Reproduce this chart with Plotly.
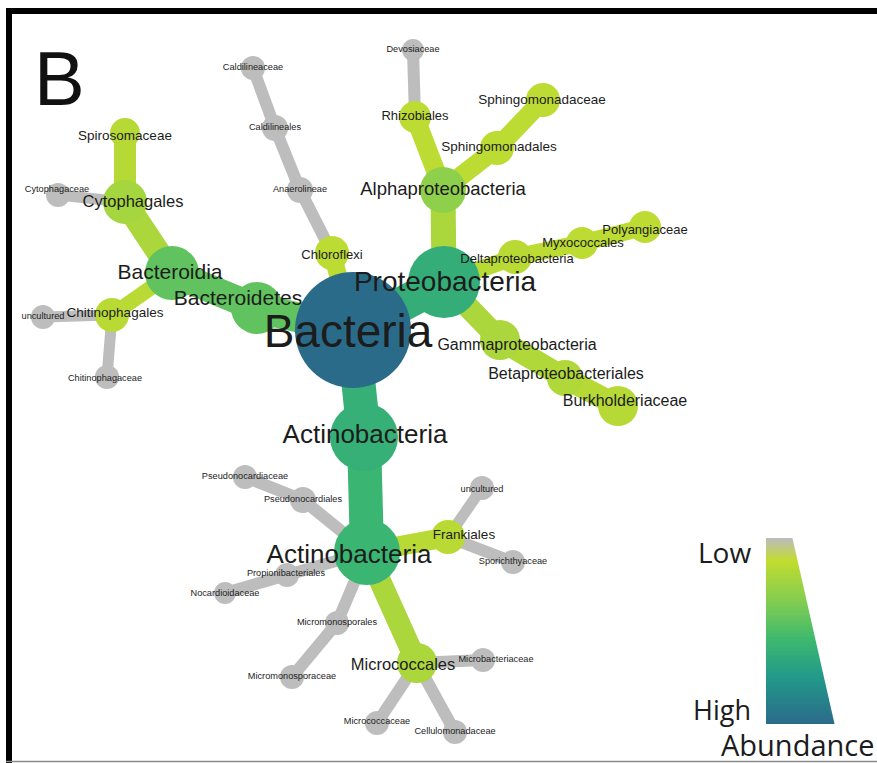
import plotly.graph_objects as go
from plotly.colors import sample_colorscale

# ---- taxonomy (parent is the index of the parent taxon, -1 for the root) ----
taxa = [
    "Bacteria", "Proteobacteria", "Actinobacteria", "Bacteroidetes", "Chloroflexi",
    "Actinobacteria", "Bacteroidia", "Anaerolineae", "Caldilineales", "Caldilineaceae",
    "Alphaproteobacteria", "Deltaproteobacteria", "Gammaproteobacteria", "Rhizobiales", "Devosiaceae",
    "Sphingomonadales", "Sphingomonadaceae", "Myxococcales", "Polyangiaceae", "Betaproteobacteriales",
    "Burkholderiaceae", "Cytophagales", "Spirosomaceae", "Cytophagaceae", "Chitinophagales",
    "uncultured", "Chitinophagaceae", "Pseudonocardiales", "Pseudonocardiaceae", "Frankiales",
    "uncultured", "Sporichthyaceae", "Propionibacteriales", "Nocardioidaceae", "Micromonosporales",
    "Micromonosporaceae", "Micrococcales", "Microbacteriaceae", "Micrococcaceae", "Cellulomonadaceae",
]
parent = [
    -1, 0, 0, 0, 0,
    2, 3, 4, 7, 8,
    1, 1, 1, 10, 13,
    10, 15, 11, 17, 12,
    19, 6, 21, 21, 6,
    24, 24, 5, 27, 5,
    29, 29, 5, 32, 5,
    34, 5, 36, 36, 36,
]
# number of OTUs per taxon (node size)
otu_count = [
    1346, 518, 462, 270, 116,
    436, 292, 68, 68, 58,
    212, 116, 160, 102, 48,
    116, 116, 102, 102, 130,
    160, 194, 90, 58, 116,
    58, 58, 68, 58, 116,
    58, 58, 58, 48, 58,
    58, 160, 58, 58, 58,
]
# relative abundance, 0 = low, 1 = high (node colour)
abundance = [
    1.00, 0.62, 0.60, 0.44, 0.14,
    0.57, 0.44, 0.0, 0.0, 0.0,
    0.30, 0.15, 0.20, 0.14, 0.0,
    0.14, 0.14, 0.14, 0.14, 0.18,
    0.16, 0.22, 0.16, 0.0, 0.15,
    0.0, 0.0, 0.0, 0.0, 0.15,
    0.0, 0.0, 0.0, 0.0, 0.0,
    0.0, 0.20, 0.0, 0.0, 0.0,
]
# abundance along the edge leading into each taxon (edge colour)
edge_abundance = [
    1.00, 0.62, 0.60, 0.44, 0.14,
    0.57, 0.44, 0.0, 0.0, 0.0,
    0.20, 0.15, 0.20, 0.14, 0.0,
    0.14, 0.14, 0.14, 0.14, 0.18,
    0.16, 0.20, 0.16, 0.0, 0.15,
    0.0, 0.0, 0.0, 0.0, 0.15,
    0.0, 0.0, 0.0, 0.0, 0.0,
    0.0, 0.20, 0.0, 0.0, 0.0,
]

# ---- tree layout (node centres) ----
node_x = [
    353, 444, 364, 257, 332,
    367, 172, 300, 275, 253,
    443, 515, 500, 415, 413,
    497, 543, 582, 645, 565,
    618, 125, 125, 58, 112,
    43, 107, 303, 245, 448,
    482, 513, 287, 225, 337,
    292, 417, 483, 377, 455,
]
node_y = [
    330, 282, 437, 308, 253,
    552, 273, 190, 128, 68,
    190, 257, 340, 117, 50,
    148, 100, 243, 227, 378,
    406, 202, 133, 195, 315,
    317, 377, 500, 477, 537,
    488, 562, 575, 593, 623,
    677, 663, 660, 723, 732,
]
edge_width = [
    0, 35, 34, 30, 18,
    34, 28, 12, 12, 12,
    25, 17, 22, 19, 12,
    19, 19, 17, 17, 22,
    22, 24, 22, 11, 15,
    11, 11, 12, 12, 20,
    11, 12, 12, 12, 12,
    12, 22, 12, 12, 12,
]
label_dx = [
    -5, 1, 1, -19, 0,
    -18, -2, 0, 0, 0,
    0, 2, 17, 0, 0,
    2, -1, 1, 0, 1,
    7, 8, 0, -1, 3,
    0, -2, 0, 0, 16,
    0, 0, -1, 0, 0,
    0, -14, 13, 0, 0,
]
label_dy = [
    5, 2, -1, -8, 3,
    4, 1, 0, 0, 0,
    0, 3, 6, 0, 0,
    0, 1, 1, 4, -3,
    -4, 1, 4, -5, -1,
    0, 2, 0, 0, -1,
    2, 0, -1, 1, 0,
    0, 3, 0, -1, 0,
]
SMALL = 9.2
label_size = [
    46, 28, 26, 21, 13,
    26, 21, SMALL, SMALL, SMALL,
    18.5, 13, 16, 13, SMALL,
    13.5, 13.5, 13, 13, 16,
    16, 16.5, 13.5, SMALL, 13.5,
    SMALL, SMALL, SMALL, SMALL, 13.5,
    SMALL, SMALL, SMALL, SMALL, SMALL,
    SMALL, 16.5, SMALL, SMALL, SMALL,
]

# low -> high abundance: grey, yellow-green, green, teal, blue-teal
abundance_scale = [
    [0.00, "#bdbdbd"],
    [0.12, "#c2dc30"],
    [0.35, "#7fcc52"],
    [0.55, "#3db86f"],
    [0.75, "#22998a"],
    [1.00, "#2b6b8a"],
]

W, H = 877, 763
LABEL_FONT = "Liberation Sans, Arial, sans-serif"

fig = go.Figure()

# edges
edge_colors = sample_colorscale(abundance_scale, edge_abundance)
for i, p in enumerate(parent):
    if p < 0:
        continue
    fig.add_trace(go.Scatter(
        x=[node_x[p], node_x[i]], y=[node_y[p], node_y[i]],
        mode="lines",
        line=dict(color=edge_colors[i], width=edge_width[i]),
        hoverinfo="skip", showlegend=False,
    ))

# nodes
fig.add_trace(go.Scatter(
    x=node_x, y=node_y, mode="markers",
    marker=dict(
        size=otu_count, sizemode="area", sizeref=0.2,
        color=abundance, colorscale=abundance_scale, cmin=0, cmax=1,
        line=dict(width=0), opacity=1,
    ),
    text=taxa, hoverinfo="text", showlegend=False,
))

# labels
fig.add_trace(go.Scatter(
    x=[x + dx for x, dx in zip(node_x, label_dx)],
    y=[y + dy for y, dy in zip(node_y, label_dy)],
    mode="text", text=taxa, textposition="middle center",
    textfont=dict(family=LABEL_FONT, size=label_size, color="#1c1c1c"),
    hoverinfo="skip", showlegend=False,
))

# colour key: a tapering gradient bar
n_steps = 150
bar_top, bar_bottom = 538, 724
key_vals = [k / (n_steps - 1) for k in range(n_steps)]
key_edges = [bar_top + (bar_bottom - bar_top) * k / n_steps for k in range(n_steps + 1)]
fig.add_trace(go.Heatmap(
    z=[[v] for v in key_vals], x=[766, 836], y=key_edges,
    colorscale=abundance_scale, zmin=0, zmax=1, showscale=False, hoverinfo="skip",
))

shapes = [
    # cut the bar into a wedge
    dict(type="path", path="M 792 536 L 850 536 L 850 726 L 835 726 Z",
         fillcolor="white", line=dict(width=0), layer="above"),
    # frame
    dict(type="rect", x0=6, x1=W, y0=8, y1=14, fillcolor="black", line=dict(width=0), layer="above"),
    dict(type="rect", x0=6, x1=12, y0=8, y1=H, fillcolor="black", line=dict(width=0), layer="above"),
    dict(type="line", x0=6, x1=W, y0=761.5, y1=761.5, line=dict(color="#8a8a8a", width=1.5), layer="above"),
]

KEY_FONT = "Open Sans, Lato, sans-serif"
annotations = [
    dict(x=32, y=78, text="B", showarrow=False, xanchor="left", yanchor="middle",
         font=dict(family=LABEL_FONT, size=76, color="#111111")),
    dict(x=753, y=552, text="Low", showarrow=False, xanchor="right", yanchor="middle",
         font=dict(family=KEY_FONT, size=28, color="#1c1c1c")),
    dict(x=753, y=709, text="High", showarrow=False, xanchor="right", yanchor="middle",
         font=dict(family=KEY_FONT, size=27, color="#1c1c1c")),
    dict(x=719, y=744, text="Abundance", showarrow=False, xanchor="left", yanchor="middle",
         font=dict(family=KEY_FONT, size=29, color="#1c1c1c")),
]

fig.update_layout(
    width=W, height=H,
    margin=dict(l=0, r=0, t=0, b=0, pad=0),
    paper_bgcolor="white", plot_bgcolor="white",
    xaxis=dict(range=[0, W], visible=False, fixedrange=True),
    yaxis=dict(range=[H, 0], visible=False, fixedrange=True),
    shapes=shapes, annotations=annotations,
    showlegend=False,
)

fig.write_html("out.html")
